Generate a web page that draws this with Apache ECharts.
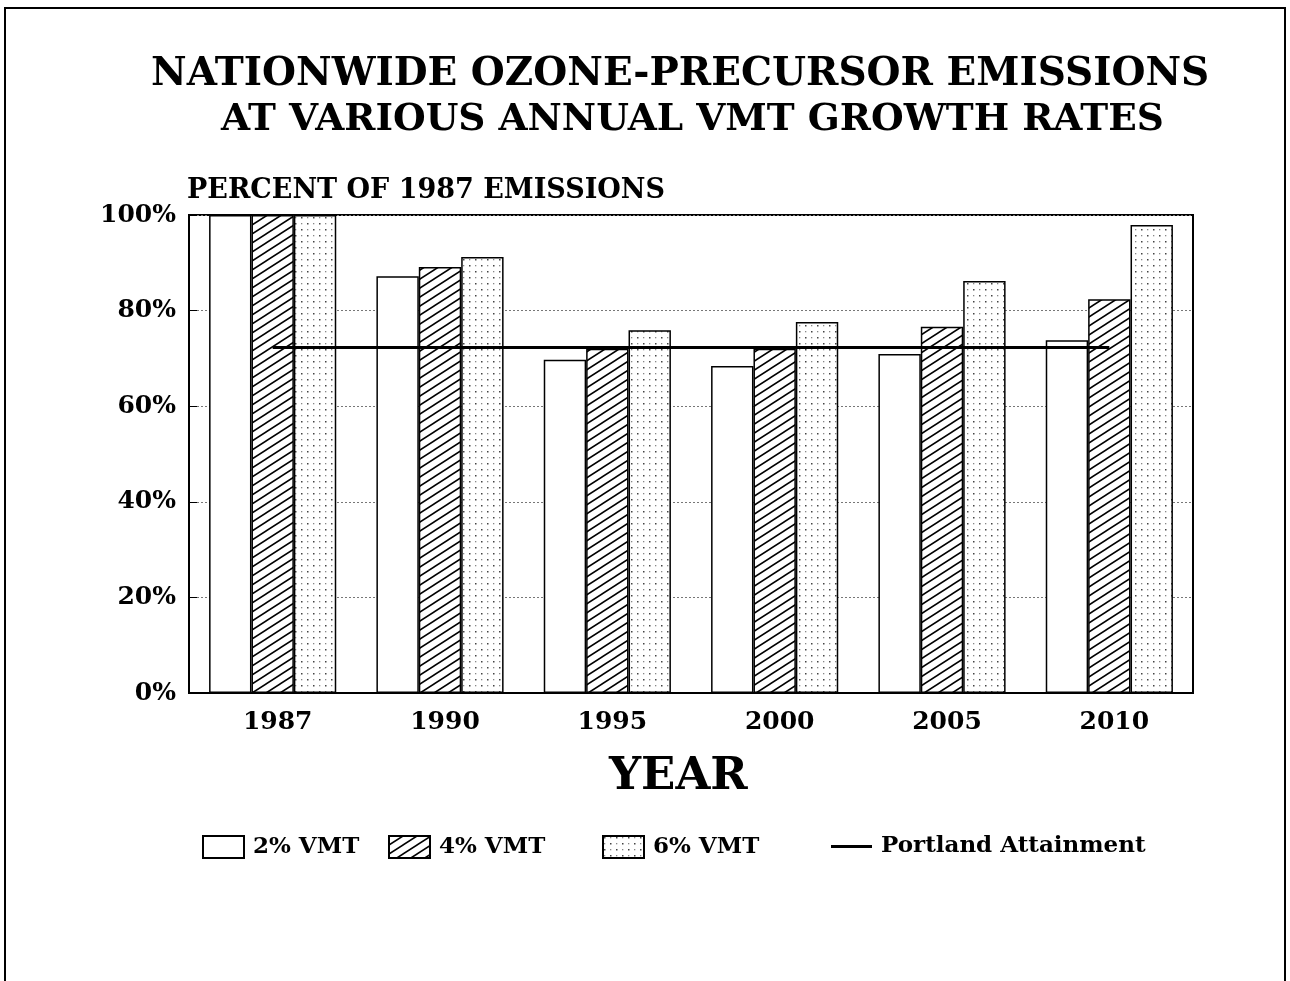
<!DOCTYPE html>
<html>
<head>
<meta charset="utf-8">
<script src="https://cdn.jsdelivr.net/npm/echarts@6/dist/echarts.min.js"></script>
<style>
  html, body { margin: 0; padding: 0; background: #fff; }
  #main { width: 1290px; height: 981px; }
</style>
</head>
<body>
<div id="main"></div>
<script>
// data
const years = ['1987', '1990', '1995', '2000', '2005', '2010'];
const vmt2 = [100, 87.2, 69.7, 68.4, 70.9, 73.8];
const vmt4 = [100, 89.1, 72.0, 72.0, 76.6, 82.4];
const vmt6 = [100, 91.2, 75.9, 77.6, 86.2, 97.9];
const portland = [72.3, 72.3, 72.3, 72.3, 72.3, 72.3];
const yTicks = [0, 20, 40, 60, 80, 100];

const FONT = '"DejaVu Serif", "Liberation Serif", serif';

// hatch pattern for 4%
function hatch() {
  const w = 14, h = 9;
  const c = document.createElement('canvas');
  c.width = w; c.height = h;
  const g = c.getContext('2d');
  g.fillStyle = '#fff';
  g.fillRect(0, 0, w, h);
  g.strokeStyle = '#000';
  g.lineWidth = 1.6;
  g.beginPath();
  g.moveTo(-w, 2 * h); g.lineTo(2 * w, -h);
  g.moveTo(-w, h); g.lineTo(w, -h);
  g.moveTo(0, 2 * h); g.lineTo(2 * w, 0);
  g.stroke();
  return c;
}
// dot pattern for 6%
function dots() {
  const c = document.createElement('canvas');
  c.width = 12; c.height = 12;
  const g = c.getContext('2d');
  g.fillStyle = '#fff';
  g.fillRect(0, 0, 12, 12);
  g.fillStyle = '#444';
  g.fillRect(1, 1, 1.5, 1.5);
  g.fillRect(7, 7, 1.5, 1.5);
  g.fillStyle = '#888';
  g.fillRect(7, 1, 1.3, 1.3);
  g.fillRect(1, 7, 1.3, 1.3);
  return c;
}

const barStyle = (fill) => ({
  color: fill,
  borderColor: '#000',
  borderWidth: 1.5
});

const legendText = { fontFamily: FONT, fontSize: 23, fontWeight: 'bold', color: '#000', padding: [0, 0, 0, 4] };
function legendAt(name, left, opts) {
  return Object.assign({
    data: [name],
    left: left,
    top: 830,
    icon: 'rect',
    itemWidth: 41,
    itemHeight: 22,
    selectedMode: false,
    textStyle: legendText
  }, opts || {});
}

let myChart = echarts.init(document.getElementById('main'));

myChart.setOption({
  backgroundColor: '#fff',
  animation: false,
  title: [
    {
      text: 'NATIONWIDE OZONE-PRECURSOR EMISSIONS',
      left: 146,
      top: 50,
      textStyle: { fontFamily: FONT, fontSize: 39, fontWeight: 'bold', color: '#000' }
    },
    {
      text: 'AT VARIOUS ANNUAL VMT GROWTH RATES',
      left: 216,
      top: 96,
      textStyle: { fontFamily: FONT, fontSize: 37.5, fontWeight: 'bold', color: '#000' }
    },
    {
      text: 'PERCENT OF 1987 EMISSIONS',
      left: 182,
      top: 172,
      textStyle: { fontFamily: FONT, fontSize: 27, fontWeight: 'bold', color: '#000' }
    },
    {
      text: 'YEAR',
      left: 604,
      top: 750,
      textStyle: { fontFamily: FONT, fontSize: 45, fontWeight: 'bold', color: '#000' }
    }
  ],
  graphic: [
    {
      type: 'rect',
      shape: { x: 5, y: 8, width: 1280, height: 1000 },
      style: { fill: 'none', stroke: '#000', lineWidth: 2 },
      silent: true
    }
  ],
  legend: [
    legendAt('2% VMT', 197),
    legendAt('4% VMT', 383),
    legendAt('6% VMT', 597),
    legendAt('Portland Attainment', 826, { itemHeight: 3 })
  ],
  grid: {
    left: 189,
    right: 97,
    top: 215,
    bottom: 288,
    show: true,
    borderColor: '#000',
    borderWidth: 2
  },
  xAxis: {
    type: 'category',
    data: years,
    axisLine: { lineStyle: { color: '#000', width: 2 } },
    axisTick: { show: false },
    axisLabel: {
      margin: 17,
      padding: [0, 0, 0, 10],
      fontFamily: FONT, fontSize: 25, fontWeight: 'bold', color: '#000'
    }
  },
  yAxis: {
    type: 'value',
    min: yTicks[0],
    max: yTicks[yTicks.length - 1],
    interval: 20,
    axisLine: { show: true, lineStyle: { color: '#000', width: 2 } },
    axisTick: { show: true, inside: true, length: 8, lineStyle: { color: '#000' } },
    splitLine: { lineStyle: { color: '#777', type: [2, 2], width: 1 } },
    axisLabel: {
      margin: 13,
      formatter: '{value}%',
      fontFamily: FONT, fontSize: 25, fontWeight: 'bold', color: '#000'
    }
  },
  series: [
    {
      name: '2% VMT',
      type: 'bar',
      data: vmt2,
      barGap: '0%',
      barCategoryGap: '24%',
      itemStyle: barStyle('#fff')
    },
    {
      name: '4% VMT',
      type: 'bar',
      data: vmt4,
      itemStyle: barStyle({ image: hatch(), repeat: 'repeat' })
    },
    {
      name: '6% VMT',
      type: 'bar',
      data: vmt6,
      itemStyle: barStyle({ image: dots(), repeat: 'repeat' })
    },
    {
      name: 'Portland Attainment',
      type: 'line',
      data: portland,
      symbol: 'none',
      z: 5,
      lineStyle: { color: '#000', width: 3 },
      itemStyle: { color: '#000' }
    }
  ]
});
</script>
</body>
</html>
